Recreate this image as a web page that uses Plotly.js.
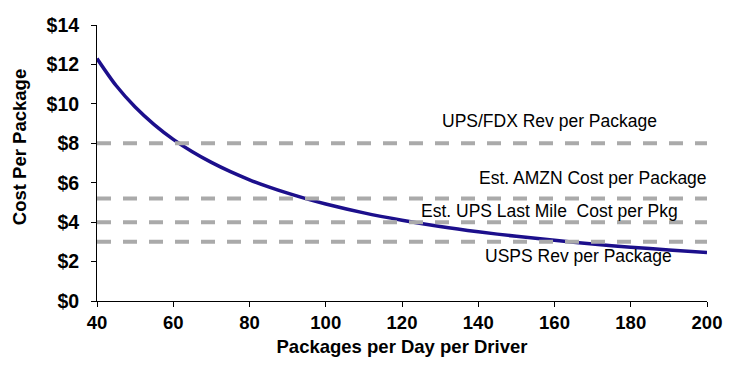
<!DOCTYPE html>
<html>
<head>
<meta charset="utf-8">
<script src="https://cdn.plot.ly/plotly-3.0.1.min.js"></script>
<style>html,body{margin:0;padding:0;background:#fff}#chart{width:740px;height:367px}</style>
</head>
<body>
<div id="chart"></div>
<script>
// Packages per day per driver
var packagesPerDay = [40, 45, 50, 55, 60, 65, 70, 75, 80, 85, 90, 95, 100, 110, 120, 130, 140, 150, 160, 170, 180, 190, 200];
// Cost per package ($)
var costPerPackage = [12.3, 10.93, 9.84, 8.95, 8.2, 7.57, 7.03, 6.56, 6.15, 5.79, 5.47, 5.18, 4.92, 4.47, 4.1, 3.78, 3.51, 3.28, 3.08, 2.89, 2.73, 2.59, 2.46];

// Reference levels
var refNames = ["UPS/FDX Rev per Package", "Est. AMZN Cost per Package", "Est. UPS Last Mile\u00a0 Cost per Pkg", "USPS Rev per Package"];
var refValues = [8.0, 5.2, 4.0, 3.0];
var refRange = [40, 200];
// Label anchor points (x, y in data units)
var labelX = [158.8, 170, 158.8, 166.4];
var labelY = [9.13, 6.24, 4.57, 2.28];

var yTickVals = [0, 2, 4, 6, 8, 10, 12, 14];
var xTickVals = [40, 60, 80, 100, 120, 140, 160, 180, 200];

var FONT = "Liberation Sans, Arial, Helvetica, sans-serif";

var traces = [{
  x: packagesPerDay,
  y: costPerPackage,
  type: "scatter",
  mode: "lines",
  line: {color: "#1c0f8c", width: 3.5, shape: "spline", smoothing: 0.8},
  hoverinfo: "x+y",
  showlegend: false
}];

refValues.forEach(function (v, i) {
  traces.push({
    x: refRange,
    y: [v, v],
    type: "scatter",
    mode: "lines",
    line: {color: "#aaaaaa", width: 4, dash: "14px,12px"},
    name: refNames[i],
    showlegend: false
  });
});

var annotations = refNames.map(function (t, i) {
  return {
    x: labelX[i], y: labelY[i], xref: "x", yref: "y",
    text: t, showarrow: false, xanchor: "center", yanchor: "middle",
    font: {family: FONT, size: 17.5, color: "#000"}
  };
});
annotations.push({
  x: -0.126, y: 0.558, xref: "paper", yref: "paper",
  text: "<b>Cost Per Package</b>", showarrow: false, textangle: -90,
  xanchor: "center", yanchor: "middle",
  font: {family: FONT, size: 18.5, color: "#000"}
});

var layout = {
  width: 740, height: 367,
  margin: {l: 97, r: 33, t: 25, b: 66},
  paper_bgcolor: "#fff", plot_bgcolor: "#fff",
  font: {family: FONT, color: "#000"},
  xaxis: {
    range: [40, 200], tickvals: xTickVals, ticktext: xTickVals.map(String),
    showgrid: false, zeroline: false, showline: true, linecolor: "#000", linewidth: 1,
    ticks: "outside", ticklen: 5, tickcolor: "#000",
    tickfont: {family: FONT, size: 18.5, color: "#000", weight: "bold"},
    title: {text: "<b>Packages per Day per Driver</b>", font: {family: FONT, size: 18.5, color: "#000"}, standoff: 7}
  },
  yaxis: {
    range: [0, 14], tickvals: yTickVals, ticktext: yTickVals.map(function (v) { return "$" + v; }),
    showgrid: false, zeroline: false, showline: true, linecolor: "#000", linewidth: 1,
    ticks: "outside", ticklen: 5, tickcolor: "#000", ticklabelstandoff: 8,
    tickfont: {family: FONT, size: 19.5, color: "#000", weight: "bold"}
  },
  annotations: annotations,
  showlegend: false
};

Plotly.newPlot("chart", traces, layout, {displayModeBar: false, staticPlot: true});
</script>
</body>
</html>
